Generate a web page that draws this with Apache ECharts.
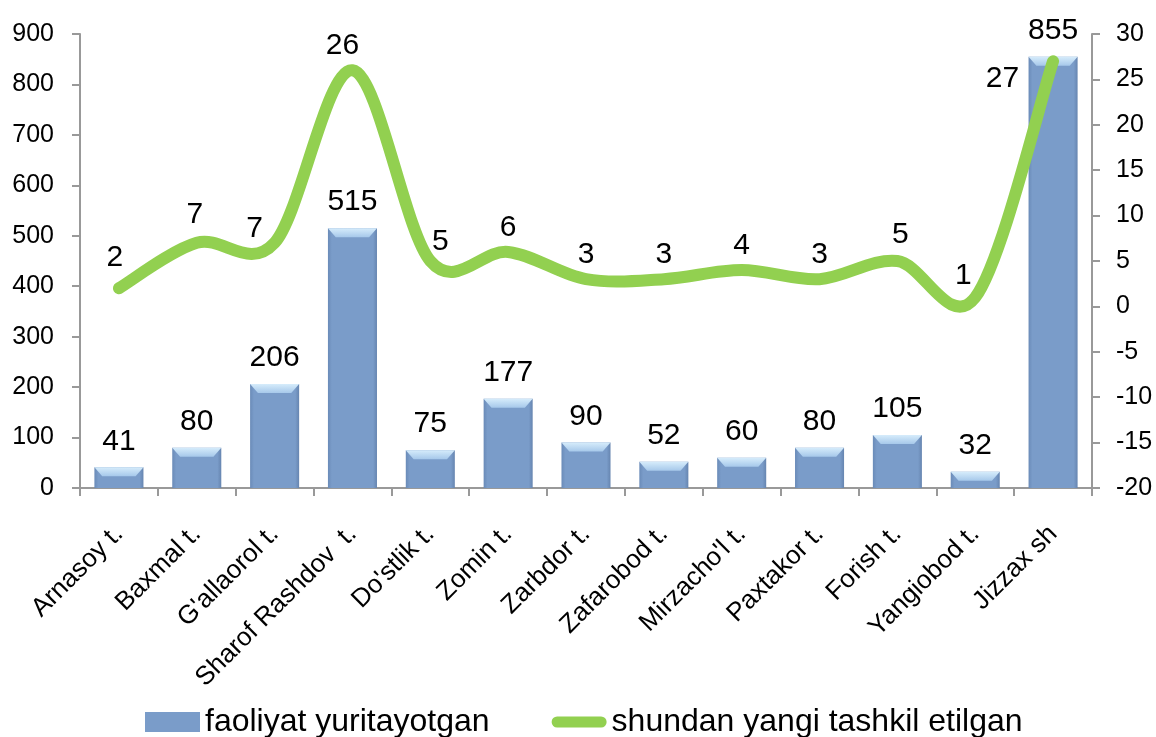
<!DOCTYPE html>
<html><head><meta charset="utf-8">
<script src="https://cdn.jsdelivr.net/npm/echarts@6/dist/echarts.min.js"></script>
<style>html,body{margin:0;padding:0;background:#fff}#c{width:1156px;height:737px}</style>
</head><body><div id="c"></div>
<script>
const categories = ["Arnasoy t.","Baxmal t.","G'allaorol t.","Sharof Rashdov  t.","Do'stlik t.","Zomin t.","Zarbdor t.","Zafarobod t.","Mirzacho'l t.","Paxtakor t.","Forish t.","Yangiobod t.","Jizzax sh"];
const faoliyat = [41,80,206,515,75,177,90,52,60,80,105,32,855];
const yangi = [2,7,7,26,5,6,3,3,4,3,5,1,27];
const leftTicks = {min:0,max:900,interval:100};
const rightTicks = {min:-20,max:30,interval:5};
const seriesNames = ["faoliyat yuritayotgan","shundan yangi tashkil etilgan"];

const font = "Liberation Sans, Arial, sans-serif";
const GREEN = '#92d050';
// label placement tweaks (style only): [dx, dy] of label centre relative to point
const labelShift = {0:[-4,-31],1:[-2,-28],2:[-20,-14],3:[-10,-25],4:[10,-19],10:[3,-26],11:[-12,-22]};

const chart = echarts.init(document.getElementById('c'));
const barGrad = new echarts.graphic.LinearGradient(0,0,1,0,[
  {offset:0,color:'#6a8bb8'},{offset:0.08,color:'#7a9cc9'},{offset:0.92,color:'#7a9cc9'},{offset:1,color:'#6685b0'}]);
const capGrad = new echarts.graphic.LinearGradient(0,0,0,1,[
  {offset:0,color:'#d6ecfb'},{offset:1,color:'#a6c8ea'}]);

function renderLine(params, api){
  const i = params.dataIndex;
  const children = [];
  if (i === 0){
    const pts = yangi.map((v,k)=>api.coord([k, v]));
    let d = 'M' + pts[0][0] + ',' + pts[0][1];
    const t = 1/6;
    for (let k=0;k<pts.length-1;k++){
      const p0 = pts[Math.max(k-1,0)], p1 = pts[k], p2 = pts[k+1], p3 = pts[Math.min(k+2,pts.length-1)];
      const c1 = [p1[0]+(p2[0]-p0[0])*t, p1[1]+(p2[1]-p0[1])*t];
      const c2 = [p2[0]-(p3[0]-p1[0])*t, p2[1]-(p3[1]-p1[1])*t];
      d += ' C' + c1[0]+','+c1[1]+' '+c2[0]+','+c2[1]+' '+p2[0]+','+p2[1];
    }
    children.push({type:'path', shape:{pathData:d},
      style:{stroke:GREEN, lineWidth:12, fill:'none', lineCap:'round', lineJoin:'round'}});
  }
  const v = api.value(1);
  const p = api.coord([api.value(0), v]);
  if (i === yangi.length-1){
    children.push({type:'text', x:p[0]-34, y:p[1]+17, z2:10,
      style:{text:String(v), fill:'#000', fontSize:30, fontFamily:font, align:'right', verticalAlign:'middle'}});
  } else {
    const s = labelShift[i] || [0,-24];
    children.push({type:'text', x:p[0]+s[0], y:p[1]+s[1], z2:10,
      style:{text:String(v), fill:'#000', fontSize:30, fontFamily:font, align:'center', verticalAlign:'middle'}});
  }
  return {type:'group', children};
}

chart.setOption({
  animation:false,
  textStyle:{fontFamily:font,color:'#000'},
  grid:{left:80,right:64,top:34,bottom:249,containLabel:false},
  legend:{top:706,left:145,padding:0,itemGap:62,itemWidth:55,itemHeight:20,
    textStyle:{fontSize:32,color:'#000',fontFamily:font},
    data:[{name:seriesNames[0],icon:'rect',itemStyle:{color:'#7a9cc9'}},
          {name:seriesNames[1],icon:'path://M6,0 L54,0 A6,6 0 0 1 54,12 L6,12 A6,6 0 0 1 6,0 Z',itemStyle:{color:GREEN}}]},
  xAxis:{type:'category',data:categories,
    axisLine:{lineStyle:{color:'#999',width:2}},
    axisTick:{show:true,length:8,lineStyle:{color:'#999',width:2}},
    axisLabel:{rotate:45,fontSize:26,color:'#000',fontFamily:font,margin:42,interval:0}},
  yAxis:[
    {type:'value',min:leftTicks.min,max:leftTicks.max,interval:leftTicks.interval,
     splitLine:{show:false},
     axisLine:{show:true,lineStyle:{color:'#999',width:2}},
     axisTick:{show:true,length:8,lineStyle:{color:'#999',width:2}},
     axisLabel:{fontSize:25,color:'#000',fontFamily:font,margin:26}},
    {type:'value',min:rightTicks.min,max:rightTicks.max,interval:rightTicks.interval,
     splitLine:{show:false},
     axisLine:{show:true,lineStyle:{color:'#999',width:2}},
     axisTick:{show:true,length:8,lineStyle:{color:'#999',width:2}},
     axisLabel:{fontSize:25,color:'#000',fontFamily:font,margin:24}}
  ],
  series:[
    {name:seriesNames[0],type:'bar',data:faoliyat,yAxisIndex:0,barCategoryGap:'37%',
     itemStyle:{color:barGrad},
     label:{show:true,position:'top',fontSize:30,color:'#000',fontFamily:font,distance:11}},
    {name:'cap',type:'pictorialBar',data:faoliyat,yAxisIndex:0,barCategoryGap:'37%',silent:true,
     symbol:'path://M0,0 L100,0 L84,10 L16,10 Z',symbolSize:['100%',9],symbolPosition:'end',
     itemStyle:{color:capGrad},z:3},
    {name:seriesNames[1],type:'custom',yAxisIndex:1,
     data:yangi.map((v,i)=>[i,v]),
     itemStyle:{color:GREEN},
     renderItem:renderLine,z:5}
  ]
});
</script></body></html>
